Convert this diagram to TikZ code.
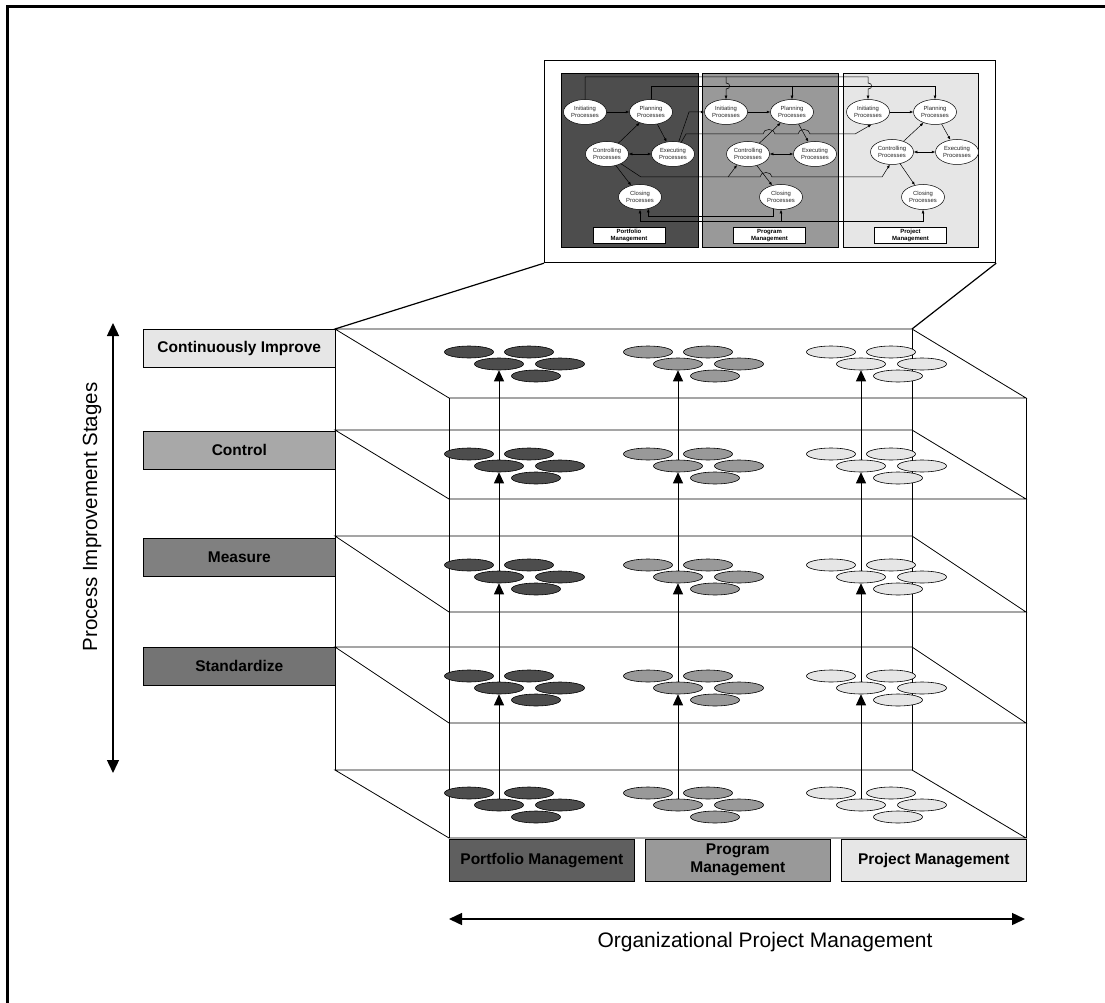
\documentclass[tikz,border=0pt]{standalone}
\usepackage{fontspec}
\setmainfont{Liberation Sans}
\usetikzlibrary{shapes.geometric,arrows.meta,calc}
\pgfdeclarelayer{bottom}
\pgfdeclarelayer{background}
\pgfsetlayers{bottom,background,main}
\definecolor{dk}{HTML}{4D4D4D}
\definecolor{md}{HTML}{999999}
\definecolor{lt}{HTML}{E6E6E6}
\definecolor{ctl}{HTML}{A8A8A8}
\definecolor{msr}{HTML}{808080}
\definecolor{std}{HTML}{747474}
\definecolor{pfm}{HTML}{5F5F5F}
\newcommand\mycluster[4]{%
  \node[cell,fill=#4] (#1-tl) at ({#2-30},{#3-12}) {};
  \node[cell,fill=#4] (#1-tr) at ({#2+30},{#3-12}) {};
  \node[cell,fill=#4] (#1-m) at (#2,#3) {};
  \node[cell,fill=#4] (#1-mr) at ({#2+61},#3) {};
  \node[cell,fill=#4] (#1-b) at ({#2+37},{#3+12}) {};}
\newcommand\myplane[2]{\draw[edge] (335,#1) -- (912,#1) -- (1026,#2) -- (449,#2) -- cycle;}
\begin{document}
\begin{tikzpicture}[x=1pt,y=-1pt,
  edge/.style={line width=0.8pt,draw=black},
  cell/.style={ellipse,draw=black,line width=0.6pt,minimum width=49pt,minimum height=12pt,inner sep=0pt},
  uparr/.style={line width=0.8pt,-{Triangle[length=11pt,width=10pt]}},
  dbl/.style={line width=1.4pt,{Triangle[length=13pt,width=12pt]}-{Triangle[length=13pt,width=12pt]}},
  stage/.style={draw=black,line width=0.6pt,minimum width=192pt,minimum height=38pt,inner sep=0pt,anchor=north west,font=\fontsize{15.5}{17}\selectfont\bfseries},
  mgmt/.style={draw=black,line width=0.6pt,minimum width=185pt,minimum height=42pt,inner sep=0pt,anchor=north west,align=center,font=\fontsize{15.5}{18}\selectfont\bfseries},
  panel/.style={draw=black,line width=0.6pt,minimum height=174pt,inner sep=0pt,anchor=north west},
  proc/.style={ellipse,draw=black,fill=white,line width=0.5pt,minimum width=43pt,minimum height=25pt,inner sep=0pt,align=center,font=\fontsize{5.9}{6.8}\selectfont,text=black!85},
  plabel/.style={draw=black,fill=white,line width=0.5pt,minimum width=72pt,minimum height=16pt,inner sep=0pt,align=center,font=\fontsize{6}{7.2}\selectfont\bfseries},
  iarr/.style={line width=0.5pt,-{Latex[length=3.5pt,width=2.8pt]}},
  iarrb/.style={line width=0.5pt,{Latex[length=3.5pt,width=2.8pt]}-{Latex[length=3.5pt,width=2.8pt]}},
  conn/.style={line width=1.2pt}]
\useasboundingbox (0,0) rectangle (1105,1003);
\begin{pgfonlayer}{bottom}\fill[white] (0,0) rectangle (1105,1003);\end{pgfonlayer}
\draw[line width=3pt] (7,1003) -- (7,7) -- (1105,7);

% ---------- 3D stack ----------
\myplane{329}{398}
\myplane{430}{499}
\myplane{536}{612}
\myplane{647}{723}
\myplane{770}{838}
\draw[edge] (335,329) -- (335,770);
\draw[edge] (449,398) -- (449,838);
\draw[edge] (912,329) -- (912,770);
\draw[edge] (1026,398) -- (1026,838);

\mycluster{Ax}{499}{364}{dk}\mycluster{Ay}{678}{364}{md}\mycluster{Az}{861}{364}{lt}
\mycluster{Bx}{499}{466}{dk}\mycluster{By}{678}{466}{md}\mycluster{Bz}{861}{466}{lt}
\mycluster{Cx}{499}{577}{dk}\mycluster{Cy}{678}{577}{md}\mycluster{Cz}{861}{577}{lt}
\mycluster{Dx}{499}{688}{dk}\mycluster{Dy}{678}{688}{md}\mycluster{Dz}{861}{688}{lt}
\mycluster{Ex}{499}{805}{dk}\mycluster{Ey}{678}{805}{md}\mycluster{Ez}{861}{805}{lt}

\begin{pgfonlayer}{background}
\foreach \c in {x,y,z}{
  \draw[uparr] (E\c-m.north) -- (D\c-m.south);
  \draw[uparr] (D\c-m.north) -- (C\c-m.south);
  \draw[uparr] (C\c-m.north) -- (B\c-m.south);
  \draw[uparr] (B\c-m.north) -- (A\c-m.south);
}
\end{pgfonlayer}

% stage labels
\node[stage,fill=lt] (sCI) at (143,329) {Continuously Improve};
\node[stage,fill=ctl] (sCtl) at (143,431) {Control};
\node[stage,fill=msr] (sMsr) at (143,538) {Measure};
\node[stage,fill=std] (sStd) at (143,647) {Standardize};

% bottom labels
\node[mgmt,fill=pfm] (bPort) at (449,839) {Portfolio Management};
\node[mgmt,fill=md] (bProg) at (645,839) {Program\\Management};
\node[mgmt,fill=lt] (bProj) at (841,839) {Project Management};

% axes
\coordinate (vtop) at (113,323);
\coordinate (vbot) at (113,773);
\draw[dbl] (vtop) -- (vbot);
\node[rotate=90,font=\fontsize{20.5}{24}\selectfont] (ytitle) at (92,517) {Process Improvement Stages};
\coordinate (hl) at (449,919);
\coordinate (hr) at (1025,919);
\draw[dbl] (hl) -- (hr);
\node[font=\fontsize{21}{24}\selectfont] (xtitle) at (765,942) {Organizational Project Management};

% ---------- inset ----------
\node[draw=black,line width=1.2pt,minimum width=451pt,minimum height=202pt,inner sep=0pt,anchor=north west] (inset) at (544,60) {};
\coordinate (planeTL) at (335,329);
\coordinate (planeTR) at (912,329);
\draw[conn] (planeTL) -- (inset.south west);
\draw[conn] (planeTR) -- (inset.south east);

\node[panel,fill=dk,minimum width=137pt] (pan1) at (561,73) {};
\node[panel,fill=md,minimum width=136pt] (pan2) at (702,73) {};
\node[panel,fill=lt,minimum width=135pt] (pan3) at (843,73) {};

\node[proc] (I1) at (585,112) {Initiating\\Processes};
\node[proc] (Pl1) at (651,112) {Planning\\Processes};
\node[proc] (C1) at (607,154) {Controlling\\Processes};
\node[proc] (E1) at (673,154) {Executing\\Processes};
\node[proc] (Cl1) at (640,197) {Closing\\Processes};

\node[proc] (I2) at (726,112) {Initiating\\Processes};
\node[proc] (Pl2) at (792,112) {Planning\\Processes};
\node[proc] (C2) at (748,154) {Controlling\\Processes};
\node[proc] (E2) at (815,154) {Executing\\Processes};
\node[proc] (Cl2) at (781,197) {Closing\\Processes};

\node[proc] (I3) at (868,112) {Initiating\\Processes};
\node[proc] (Pl3) at (935,112) {Planning\\Processes};
\node[proc] (C3) at (892,152) {Controlling\\Processes};
\node[proc] (E3) at (957,152) {Executing\\Processes};
\node[proc] (Cl3) at (923,197) {Closing\\Processes};

\node[plabel] (lab1) at (629,235.5) {Portfolio\\Management};
\node[plabel] (lab2) at (769.5,235.5) {Program\\Management};
\node[plabel] (lab3) at (910.5,235.5) {Project\\Management};

\foreach \k in {1,2,3}{
  \draw[iarr] (I\k) -- (Pl\k);
  \draw[iarr] (Pl\k) -- (E\k);
  \draw[iarr] (C\k) -- (Pl\k);
  \draw[iarrb] (C\k) -- (E\k);
  \draw[iarr] (C\k) -- (Cl\k);
}

% top buses
\coordinate (jA2) at (726,77);
\coordinate (jB2) at (792,86);
\draw[iarr] (I1.north) |- (868,77) -- (868,83) .. controls (873,83) and (873,89) .. (868,89) -- (I3.north);
\draw[iarr] (jA2) -- (726,83) .. controls (731,83) and (731,89) .. (726,89) -- (I2.north);
\draw[iarr] (Pl1.north) |- (935,86) -- (Pl3.north);
\draw[iarr] (jB2) -- (Pl2.north);

% executing to initiating
\draw[iarr] (E1.65) -- (689,112) -- (I2.west);
\draw[iarr] (E1.55) -- (686,134) -- (763,134) .. controls (763,128) and (775,128) .. (775,134)
  -- (798,134) .. controls (798,128) and (810,128) .. (810,134) -- (855,134) -- (I3.-75);

% controlling bus
\coordinate (jC2) at (728,177);
\draw[iarr] (C1.-35) -- (641,177) -- (760,177) .. controls (760,171) and (772,171) .. (772,177)
  -- (882,177) -- (C3.-100);
\draw[iarr] (jC2) -- (C2.-135);

% closing buses
\coordinate (lineA) at (0,216);
\coordinate (lineB) at (0,221);
\draw[iarr] (Cl2.-125) -- (Cl2.-125 |- lineA) -- (Cl1.-55 |- lineA) -- (Cl1.-55);
\draw[iarrb] (Cl1.south) -- (Cl1.south |- lineB) -- (Cl3.south |- lineB) -- (Cl3.south);
\coordinate (jD2) at (Cl2.south |- lineB);
\draw[iarr] (jD2) -- (Cl2.south);
\end{tikzpicture}
\end{document}
